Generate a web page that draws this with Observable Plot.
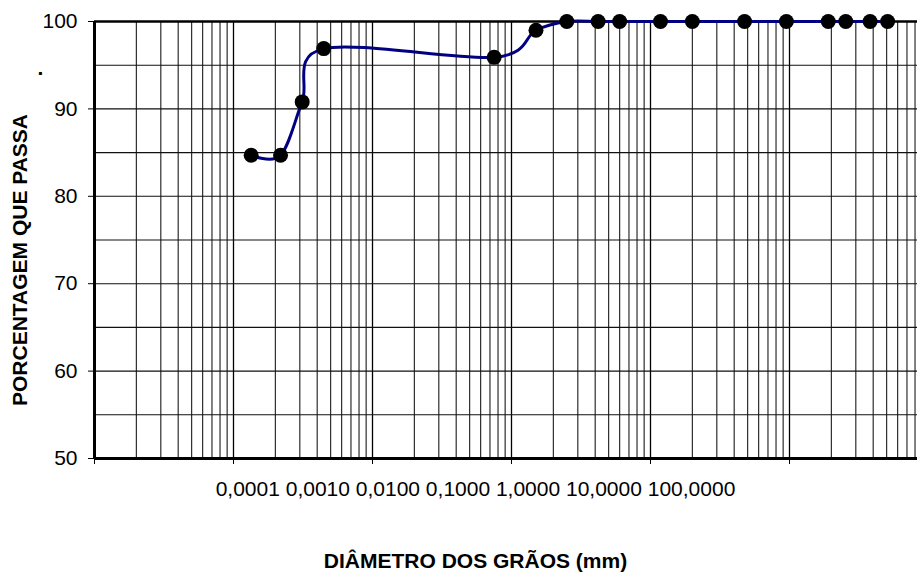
<!DOCTYPE html>
<html>
<head>
<meta charset="utf-8">
<script src="https://cdn.jsdelivr.net/npm/d3@7"></script>
<script src="https://cdn.jsdelivr.net/npm/@observablehq/plot@0.6"></script>
<style>
  html, body { margin: 0; padding: 0; background: white; overflow: hidden; }
  svg { overflow: hidden; }
</style>
</head>
<body>
<div id="chart"></div>
<script>
// Grain-size distribution (diameter in mm, percent passing)
const diameters = [0.00134, 0.00218, 0.00312, 0.00446, 0.075, 0.15, 0.25, 0.42, 0.6, 1.18, 2.0, 4.75, 9.5, 19, 25.4, 38, 50.8];
const percents  = [84.7, 84.7, 90.8, 96.9, 95.9, 99.0, 100, 100, 100, 100, 100, 100, 100, 100, 100, 100, 100];
const decades = [0.0001, 0.001, 0.01, 0.1, 1, 10, 100];
const xTickLabels = ["0,0001", "0,0010", "0,0100", "0,1000", "1,0000", "10,0000", "100,0000"];
const yTicks = [50, 60, 70, 80, 90, 100];
const yGrid = [55, 60, 65, 70, 75, 80, 85, 90, 95];
const xTitle = "DIÂMETRO DOS GRÃOS (mm)";
const yTitle = "PORCENTAGEM QUE PASSA";

const data = diameters.map((d, i) => ({d, p: percents[i]}));
const minor = decades.slice(0, -1).flatMap(k => [2, 3, 4, 5, 6, 7, 8, 9].map(m => k * m));

const font = "'Liberation Sans', Arial, sans-serif";

const chart = Plot.plot({
  width: 917,
  height: 573,
  marginLeft: 94,
  marginRight: -11,
  marginTop: 21,
  marginBottom: 115,
  x: {type: "log", domain: [decades[0], decades[decades.length - 1]]},
  y: {domain: [50, 100]},
  style: {fontFamily: font, fontSize: "21px", color: "black", background: "white"},
  marks: [
    Plot.ruleX(minor, {stroke: "#1a1a1a", strokeWidth: 1.1}),
    Plot.ruleX(decades, {stroke: "#000", strokeWidth: 1.3}),
    Plot.ruleY(yGrid, {stroke: "#111", strokeWidth: 1.1}),
    Plot.axisY({ticks: yTicks, tickSize: 6, tickPadding: 11, label: null, fontSize: 21}),
    Plot.axisX({ticks: decades, tickSize: 6, tickFormat: () => "", label: null}),
    Plot.ruleY([100], {stroke: "#000", strokeWidth: 2.5}),
    Plot.ruleY([50], {stroke: "#000", strokeWidth: 3}),
    Plot.ruleX([decades[0]], {stroke: "#000", strokeWidth: 3}),
    Plot.line(data, {x: "d", y: "p", curve: "cardinal", stroke: "#000080", strokeWidth: 3}),
    Plot.dot(data, {x: "d", y: "p", r: 7.5, fill: "#000", stroke: "none"}),
    Plot.text([xTickLabels.join(" ")], {text: d => d, frameAnchor: "bottom", textAnchor: "middle", lineAnchor: "middle", dx: -36, dy: 30.5, fontSize: 21}),
    Plot.text([xTitle], {text: d => d, frameAnchor: "bottom", textAnchor: "middle", lineAnchor: "middle", dx: -36, dy: 102.5, fontSize: 21, fontWeight: "bold"}),
    Plot.text([yTitle], {text: d => d, frameAnchor: "left", textAnchor: "middle", lineAnchor: "middle", rotate: -90, dx: -74, dy: 20, fontSize: 21, fontWeight: "bold"}),
    Plot.text(["."], {text: d => d, frameAnchor: "top-left", textAnchor: "middle", lineAnchor: "middle", dx: -54, dy: 47, fontSize: 21, fontWeight: "bold"})
  ]
});

document.getElementById("chart").appendChild(chart);
</script>
</body>
</html>
